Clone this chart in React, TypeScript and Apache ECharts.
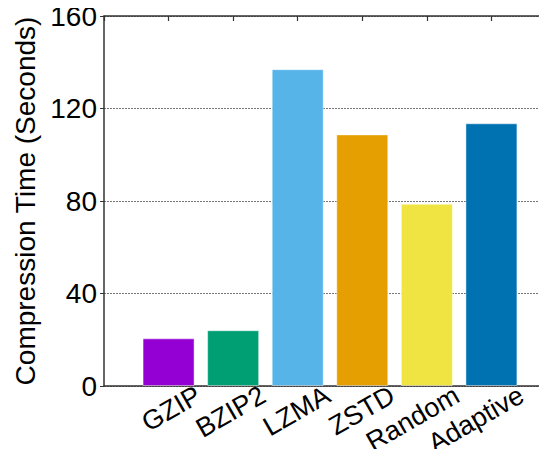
import React, { useEffect, useRef } from "react";
import * as echarts from "echarts";

const categories = ["GZIP", "BZIP2", "LZMA", "ZSTD", "Random", "Adaptive"];
const values = [20.6, 24.1, 137.0, 108.8, 78.8, 113.6];
const colors = ["#9400D3", "#009E73", "#56B4E9", "#E69F00", "#F0E442", "#0072B2"];
const yTicks = [0, 40, 80, 120, 160];
const yTitle = "Compression Time (Seconds)";

const FONT = "Liberation Sans, Arial, Helvetica, sans-serif";

export default function App() {
  const ref = useRef<HTMLDivElement>(null);
  useEffect(() => {
    if (!ref.current) return;
    const chart = echarts.init(ref.current, null, { renderer: "svg" });
    const cats = ["", ...categories, ""];
    const data = [
      null,
      ...values.map((v, i) => ({ value: v, itemStyle: { color: colors[i] } })),
      null,
    ];
    const LEFT = 104;
    const RIGHT = -9;
    const TOP = 16;
    const BOTTOM = 71;
    const SHIFT = 30;
    chart.setOption({
      animation: false,
      backgroundColor: "#ffffff",
      grid: [
        { left: LEFT, right: RIGHT, top: TOP, bottom: BOTTOM, outerBoundsMode: "none", containLabel: false },
        { left: LEFT + SHIFT, right: RIGHT - SHIFT, top: TOP, bottom: BOTTOM, outerBoundsMode: "none", containLabel: false },
      ],
      xAxis: [
        {
          type: "category",
          gridIndex: 0,
          data: cats,
          boundaryGap: false,
          position: "bottom",
          axisLine: { show: true, lineStyle: { color: "#333", width: 1.5 } },
          axisTick: { show: false },
          axisLabel: { show: false },
          splitLine: { show: false },
        },
        {
          type: "category",
          gridIndex: 0,
          data: cats,
          boundaryGap: false,
          position: "top",
          axisLine: { show: true, lineStyle: { color: "#333", width: 1.5 } },
          axisTick: { show: true, inside: true, length: 5, interval: 0, lineStyle: { color: "#333", width: 1.2 } },
          axisLabel: { show: false },
          splitLine: { show: false },
        },
        {
          type: "category",
          gridIndex: 1,
          data: cats,
          boundaryGap: false,
          position: "bottom",
          axisLine: { show: false },
          axisTick: { show: false },
          axisLabel: {
            show: true,
            interval: 0,
            rotate: 30,
            margin: 7,
            fontSize: 27,
            fontFamily: FONT,
            color: "#000",
          },
          splitLine: { show: false },
        },
      ],
      yAxis: [
        {
          type: "value",
          gridIndex: 0,
          min: yTicks[0],
          max: yTicks[yTicks.length - 1],
          interval: 40,
          name: yTitle,
          nameLocation: "middle",
          nameGap: 60,
          nameTextStyle: { fontSize: 28, fontFamily: FONT, color: "#000" },
          axisLine: { show: true, lineStyle: { color: "#333", width: 1.5 } },
          axisTick: { show: true, length: 4, lineStyle: { color: "#333" } },
          axisLabel: { fontSize: 28, fontFamily: FONT, color: "#000", margin: 7 },
          splitLine: { show: true, lineStyle: { color: "#777", type: [2, 1], width: 1 } },
        },
        { type: "value", gridIndex: 1, show: false, min: 0, max: 160 },
      ],
      series: [
        {
          type: "bar",
          xAxisIndex: 0,
          yAxisIndex: 0,
          data,
          barWidth: 52,
          itemStyle: { borderColor: "rgba(255,255,255,0.45)", borderWidth: 1 },
        },
      ],
    });
    return () => chart.dispose();
  }, []);
  return <div ref={ref} style={{ width: 547, height: 457, margin: -8 }} />;
}
